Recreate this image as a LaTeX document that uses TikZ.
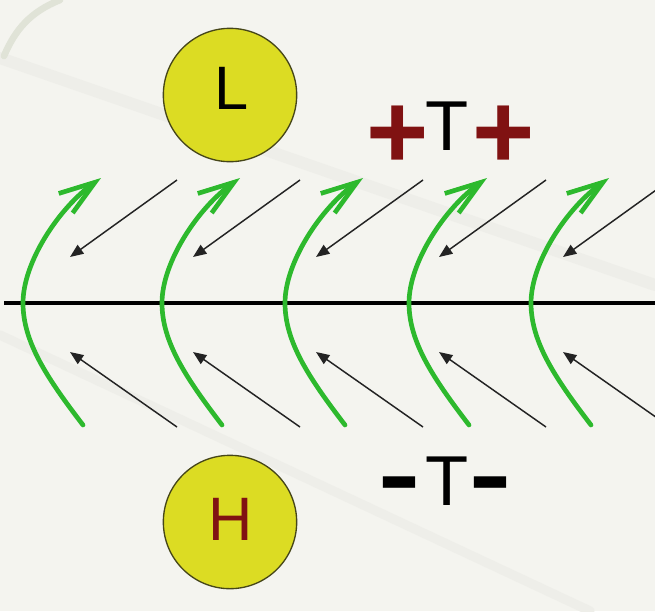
\documentclass[tikz,border=0pt]{standalone}
\usepackage{fontspec}
\setmainfont{Liberation Sans}
\usetikzlibrary{arrows.meta, positioning}
\definecolor{BG}{RGB}{244,244,239}
\definecolor{STK}{RGB}{238,238,233}
\definecolor{EDG}{RGB}{224,227,215}
\definecolor{YL}{RGB}{220,220,35}
\definecolor{OL}{RGB}{70,70,25}
\definecolor{GR}{RGB}{45,185,45}
\definecolor{DR}{RGB}{128,18,18}
\definecolor{DG}{RGB}{35,35,35}

\begin{document}
\begin{tikzpicture}[x=0.75pt, y=-0.75pt,
  pole/.style={circle, draw=OL, fill=YL, line width=1pt, minimum size=100pt, inner sep=0pt},
  letter/.style={inner sep=0pt, font=\fontsize{46}{46}\selectfont},
  sign/.style={inner sep=0pt, anchor=base west, font=\fontsize{53}{53}\selectfont},
  field/.style={draw=GR, line width=3.5pt, line cap=round,
                -{Straight Barb[length=27pt, width=18pt, line width=3.5pt]}},
  wind/.style={draw=DG, line width=1.1pt, -{Triangle[length=10pt, width=8pt]}}
]
\useasboundingbox[fill=BG] (0,0) rectangle (655,611);
\clip (0,0) rectangle (655,611);

% faint streaks of the slide background
\draw[STK, line width=9pt, line cap=round] (0,58) -- (655,285);
\draw[STK, line width=7pt, line cap=round] (0,335) -- (590,611);
\draw[EDG, line width=5pt, line cap=round] (4,56) .. controls (15,30) and (30,12) .. (60,0);

% axis
\draw[black, line width=2.6pt] (4,303) -- (655,303);

% green field lines (vertex x on the axis)
\foreach \vx in {23,162,285,409,531}
  {\draw[field] (\vx+60,425) .. controls (\vx+24,378) and (\vx,342) .. (\vx,303)
                 .. controls (\vx,262) and (\vx+36,208) .. (\vx+78,178);}

% black arrows, upper and lower (tip x)
\foreach \tx in {70,193,316,439,563}
  {\draw[wind] (\tx+107,180) -- (\tx,257);
   \draw[wind] (\tx+107,427) -- (\tx,352);}

% low and high
\node[pole] (low) at (230,95) {};
\node[letter] (lowL) at (232,88) {L};
\node[pole] (high) at (230,522) {};
\node[letter, text=DR] (highH) at (231,519) {H};

% +T+ and -T-
\node[sign] (upper) at (366,150)
  {\textcolor{DR}{\fontsize{80}{80}\selectfont\bfseries\raisebox{-14pt}{+}}\kern-2.6pt T\kern3.4pt\textcolor{DR}{\fontsize{80}{80}\selectfont\bfseries\raisebox{-14pt}{+}}};
\node[sign] (lower) at (377,505)
  {{\fontsize{110}{110}\selectfont\raisebox{-12.5pt}{\scalebox{0.9}[1]{-}}}\kern3.4pt T{\fontsize{110}{110}\selectfont\raisebox{-12.5pt}{\scalebox{0.9}[1]{-}}}};
\end{tikzpicture}
\end{document}
